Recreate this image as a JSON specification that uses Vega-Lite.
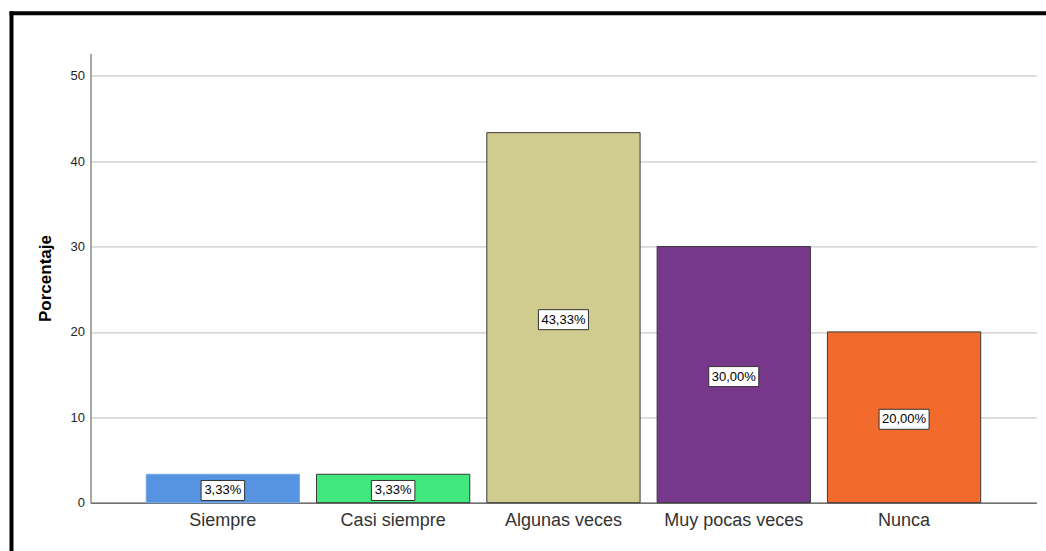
{
  "$schema": "https://vega.github.io/schema/vega-lite/v6.json",
  "autosize": {"type": "none"},
  "padding": {"left": 90.5, "top": 53.3, "right": 9.6, "bottom": 48.3},
  "width": 945.9,
  "height": 449.4,
  "background": "white",
  "config": {
    "view": {"stroke": null},
    "font": "Liberation Sans"
  },
  "datasets": {
    "bars": [
      {"category": "Siempre", "value": 3.33, "label": "3,33%"},
      {"category": "Casi siempre", "value": 3.33, "label": "3,33%"},
      {"category": "Algunas veces", "value": 43.33, "label": "43,33%"},
      {"category": "Muy pocas veces", "value": 30.0, "label": "30,00%"},
      {"category": "Nunca", "value": 20.0, "label": "20,00%"}
    ],
    "frame": [{"f": 0}]
  },
  "layer": [
    {
      "data": {"name": "frame"},
      "mark": {"type": "point", "opacity": 0},
      "encoding": {
        "x": {
          "datum": 0, "type": "quantitative",
          "scale": {"domain": [0, 1], "range": [-81.5, 1000]},
          "axis": {"orient": "top", "offset": 40.5, "domainColor": "#000000", "domainWidth": 4, "labels": false, "ticks": false, "grid": false, "title": null}
        },
        "y": {
          "datum": 0, "type": "quantitative",
          "scale": {"domain": [0, 1], "range": [600, -42.5]},
          "axis": {"orient": "left", "offset": 79.5, "domainColor": "#000000", "domainWidth": 4, "labels": false, "ticks": false, "grid": false, "title": null}
        }
      }
    },
    {
      "data": {"name": "bars"},
      "transform": [
        {"calculate": "datum.value / 2", "as": "mid"},
        {"calculate": "length(datum.label)", "as": "len"}
      ],
      "encoding": {
        "x": {
          "field": "category", "type": "nominal", "sort": null,
          "scale": {"paddingInner": 0.1, "paddingOuter": 0.327},
          "axis": {
            "title": null, "orient": "bottom", "ticks": false,
            "domainColor": "#707070", "domainWidth": 1.5,
            "labelFont": "Liberation Sans", "labelFontSize": 18, "labelColor": "#333333",
            "labelPadding": 9, "labelAngle": 0
          }
        }
      },
      "layer": [
        {
          "mark": {"type": "bar", "strokeWidth": 1},
          "encoding": {
            "y": {
              "field": "value", "type": "quantitative",
              "scale": {"domain": [0, 52.62], "nice": false, "zero": true},
              "axis": {
                "title": "Porcentaje", "orient": "left", "ticks": false,
                "values": [0, 10, 20, 30, 40, 50],
                "grid": true, "gridColor": "#d9d9d9", "gridWidth": 1.8,
                "domainColor": "#8c8c8c", "domainWidth": 1.5,
                "labelFont": "Liberation Sans", "labelFontSize": 13, "labelColor": "#222222", "labelPadding": 6,
                "titleFont": "Liberation Sans", "titleFontSize": 17, "titleFontWeight": "bold", "titleColor": "#000000",
                "titlePadding": 16
              }
            },
            "color": {
              "field": "category", "type": "nominal", "legend": null,
              "scale": {
                "domain": ["Siempre", "Casi siempre", "Algunas veces", "Muy pocas veces", "Nunca"],
                "range": ["#5693e0", "#40e87e", "#d0cb8f", "#77388b", "#f26a2c"]
              }
            },
            "stroke": {
              "condition": {"test": "datum.category === 'Siempre'", "value": "#7aaae8"},
              "value": "#3a3a3a"
            }
          }
        },
        {
          "mark": {"type": "point", "filled": true, "fill": "#ffffff", "stroke": "#333333", "strokeWidth": 1, "size": 2500, "opacity": 1, "yOffset": 2},
          "encoding": {
            "y": {"field": "mid", "type": "quantitative"},
            "shape": {
              "field": "len", "type": "nominal", "legend": null,
              "scale": {"domain": [5, 6], "range": ["M-0.87,-0.4H0.87V0.4H-0.87Z", "M-1,-0.4H1V0.4H-1Z"]}
            }
          }
        },
        {
          "mark": {"type": "text", "font": "Liberation Sans", "fontSize": 13, "color": "#000000", "baseline": "middle", "align": "center", "yOffset": 2},
          "encoding": {
            "y": {"field": "mid", "type": "quantitative"},
            "text": {"field": "label", "type": "nominal"}
          }
        }
      ]
    }
  ],
  "resolve": {"scale": {"x": "independent", "y": "independent"}}
}
